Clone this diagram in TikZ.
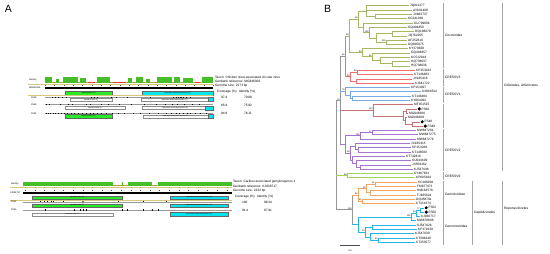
\documentclass[tikz,border=0pt]{standalone}
\usepackage{fontspec}
\setmainfont{Liberation Sans}
\usetikzlibrary{calc}
\definecolor{circ}{RGB}{165,185,100}
\definecolor{vthree}{RGB}{240,110,110}
\definecolor{vone}{RGB}{120,170,230}
\definecolor{fsc}{RGB}{200,115,115}
\definecolor{vtwo}{RGB}{165,115,210}
\definecolor{vsix}{RGB}{160,210,90}
\definecolor{gem}{RGB}{245,165,100}
\definecolor{gen}{RGB}{40,180,230}
\definecolor{bb}{RGB}{150,150,150}
\definecolor{idg}{RGB}{70,190,40}
\definecolor{idol}{RGB}{185,165,40}
\definecolor{idr}{RGB}{220,60,40}
\definecolor{cg}{RGB}{40,235,40}
\definecolor{cy}{RGB}{0,230,240}
\definecolor{khaki}{RGB}{215,200,120}
\newcommand{\lf}[3]{\coordinate (l#1) at (#2,{5.7+4.3*#1});\node[leaf] (t#1) at ([xshift=1.2pt]l#1) {#3};}
\newcommand{\lfd}[3]{\coordinate (l#1) at (#2,{5.7+4.3*#1});\node[fsdot] (d#1) at ([xshift=2.2pt]l#1) {};\node[leaf] (t#1) at ([xshift=4.6pt]l#1) {#3};}
\newcommand{\cl}[5]{\path let \p1=($(#4)!0.5!(#5)$), \p2=(#3,0) in coordinate (#2) at (\x2,\y1);
 \draw[br,#1] (#2 |- #4) -- (#2 |- #5);
 \draw[br,#1] (#2 |- #4) -- (#4);
 \draw[br,#1] (#2 |- #5) -- (#5);}
\newcommand{\bn}[6]{\path let \p1=($(#3)!0.5!(#4)$), \p2=(#2,0) in coordinate (#1) at (\x2,\y1);
 \draw[br,bb] (#1 |- #3) -- (#1 |- #4);
 \draw[br,#5] (#1 |- #3) -- (#3);
 \draw[br,#6] (#1 |- #4) -- (#4);}
\newcommand{\ed}[3]{\draw[br,#1] (#2 |- #3) -- (#3);}
\newcommand{\bsv}[2]{\node[bsn] (b#1) at ([xshift=-0.4pt,yshift=0.4pt]#1) {#2};}
\begin{document}
\begin{tikzpicture}[x=1pt,y=-1pt,
 every node/.style={inner sep=0pt,outer sep=0pt},
 leaf/.style={anchor=west,font=\fontsize{3.2}{3.4}\selectfont},
 fsdot/.style={circle,fill=black,minimum size=3.4pt},
 br/.style={line width=0.55pt},
 bsn/.style={anchor=south east,font=\fontsize{2.2}{2.4}\selectfont},
 fam/.style={anchor=west,font=\fontsize{3.3}{3.5}\selectfont},
 grp/.style={draw=black!35,line width=0.3pt},
 lab/.style={anchor=west,font=\fontsize{2.3}{2.5}\selectfont},
 info/.style={anchor=west,font=\fontsize{3.2}{3.4}\selectfont},
 gene/.style={draw=black!60,line width=0.15pt,minimum height=4pt,font=\fontsize{1.8}{2}\selectfont},
 geneo/.style={gene,fill=white,draw=black!45,minimum height=3pt},
 khk/.style={draw=khaki,line width=0.5pt},
 seq/.style={draw=black!40,line width=0.3pt},
 tick/.style={draw=black!70,line width=0.2pt},
 big/.style={font=\fontsize{10.5}{11}\selectfont}]
\useasboundingbox (0,0) rectangle (550,254);
\fill[white] (0,0) rectangle (550,254);
% ================= PANEL A =================
\node[big,anchor=west] (pA) at (5,9) {A};
% ---- top block ----
\fill[idol] (45,81.6) rectangle (213,83);
\foreach \a/\b/\t in {45/52/77,56/59/79.5,63/78/77,80/86/78.3,97/110/77,128/132/78,136/143/77.3,146/150/79.5,157/172/77,174/180/77.5,183/193/78,202/213/77}{\fill[idg] (\a,\t) rectangle (\b,83);}
\foreach \a/\b in {88/95,113/126,195/200}{\fill[idr] (\a,82.1) rectangle (\b,83);}
\node[lab] (idA) at (29,79.6) {Identity};
\draw[khk] (28,84.2) -- (213,84.2);
\foreach \i in {0,...,18}{\draw[tick] ({45+9.33*\i},85.3) -- ++(0,0.9);}
\fill (45,87.4) rectangle (213,88.9);
\node[lab] (refA) at (29,88.1) {MG846306};
\node[gene,fill=cg,minimum width=47pt] (capA) at (88.5,92.6) {capsid protein (2)};
\node[gene,fill=cy,minimum width=71pt] (repA) at (177.5,92.6) {replication associated protein (2)};
\draw[khk] (28,95.6) -- (213,95.6);
% row 1
\node[lab] (r1A) at (31,97.3) {FS48};
\draw[seq] (45,97.3) -- (213,97.3);
\foreach \p in {52,55,58,62,66,91,94,97,111,116,127,150,173,176,178,180,181,183,186,190}{\fill (\p,96.7) rectangle ++(0.5,1.2);}
\node[geneo,minimum width=42pt] (c1A) at (91,100) {capsid protein (2)};
\node[geneo,minimum width=67pt] (p1A) at (174.5,100) {replication associated protein (2)};
\draw[gene,fill=cy] (208,96.6) rectangle (213,101.4);
% row 2
\node[lab] (r2A) at (31,104.6) {FS66};
\draw[seq] (45,104.6) -- (213,104.6);
\foreach \p in {46,49,60,68,72,86,90,101,108,119,131,144,156,165,172,177,184,192,199}{\fill (\p,104) rectangle ++(0.5,1.2);}
\node[geneo,minimum width=60pt] (c2A) at (95,107.7) {capsid protein (2)};
\node[geneo,minimum width=66pt] (p2A) at (175,107.7) {replication associated protein (2)};
\draw[gene,fill=cy] (205,105.6) rectangle (213,109.6);
% row 3
\node[lab] (r3A) at (31,113.3) {FS49};
\draw[seq] (45,113.3) -- (213,113.3);
\foreach \p in {46,48,50,53,55,58,61,64,67,71,74,78,82,86,90,93,97,101,106,112,118,124,133,140,149,158,166,171,176,179,183,187,190,195,200,206}{\fill (\p,112.7) rectangle ++(0.5,1.2);}
\node[gene,fill=cg,minimum width=47pt] (c3A) at (88.5,116.3) {capsid protein (2)};
\node[geneo,minimum width=65pt] (p3A) at (175.5,116.3) {replication associated protein (2)};
\draw[gene,fill=cy] (208,114.3) rectangle (213,118.3);
% info
\node[info] (txA) at (215,77.3) {Taxon: Chicken stool-associated circular virus};
\node[info] (gbA) at (215,81.6) {Genbank reference: MG846306};
\node[info] (gsA) at (215,86) {Genome size: 2173 bp};
\node[info] (covA) at (217,91.3) {Coverage (\%)};
\node[info] (idtA) at (239,91.3) {Identity (\%)};
\node[info] (v1a) at (221,97.3) {97.4};
\node[info] (v1b) at (244,97.3) {79.88};
\node[info] (v2a) at (221,105) {85.9};
\node[info] (v2b) at (244,105) {75.92};
\node[info] (v3a) at (221,113.7) {94.9};
\node[info] (v3b) at (244,113.7) {78.11};
% ---- bottom block ----
\fill[idg] (23,182) rectangle (232,186.5);
\foreach \a/\b in {113/121.5,123/128,152/158}{\fill[white] (\a,181.9) rectangle (\b,185.4);\fill[idol] (\a,185.4) rectangle (\b,186.5);}
\node[lab] (idB) at (11,184) {Identity};
\draw[khk] (10,187.4) -- (232,187.4);
\foreach \i in {0,...,21}{\draw[tick] ({25+9.6*\i},189.8) -- ++(0,0.9);}
\fill (23,192.5) rectangle (232,194);
\node[lab] (refB) at (10,193.2) {KJ938717};
\node[gene,fill=cg,minimum width=90pt,minimum height=3.6pt] (capB) at (77,197.5) {capsid protein (2)};
\node[gene,fill=cy,minimum width=58pt,minimum height=3.6pt] (repB) at (199,197.5) {replication associated protein (2)};
\draw[khk] (10,200.4) -- (232,200.4);
\node[lab] (r1B) at (11,201.9) {FS52};
\draw[seq] (23,201.9) -- (232,201.9);
\foreach \p in {40,44,47,51,53,63,118,143,166}{\fill (\p,201.3) rectangle ++(0.5,1.2);}
\fill (83,201.9) circle (0.8);
\node[gene,fill=cg,minimum width=90pt,minimum height=3.6pt] (c1B) at (77,205.5) {capsid protein (2)};
\node[gene,fill=cy,minimum width=58pt,minimum height=3.6pt] (p1B) at (199,205.5) {replication associated protein (2)};
\node[lab] (r2B) at (11,210) {FS50};
\draw[seq] (23,210) -- (232,210);
\foreach \p in {45,80,83,86,122,127,143,158}{\fill (\p,209.4) rectangle ++(0.5,1.2);}
\fill (74.5,210) circle (0.8);\fill (152.5,210) circle (0.8);
\node[geneo,minimum width=81pt,minimum height=3.3pt] (c2B) at (72.5,214.4) {capsid protein (2)};
\node[gene,fill=cy,minimum width=58pt,minimum height=4.2pt] (p2B) at (199,213.9) {replication associated protein (2)};
\node[info] (txB) at (233,182) {Taxon: Caribou associated gemykrogvirus 1};
\node[info] (gbB) at (233,186.4) {Genbank reference: KJ938717};
\node[info] (gsB) at (233,191) {Genome size: 2232 bp};
\node[info] (covB) at (235,196.7) {Coverage (\%)};
\node[info] (idtB) at (257,196.7) {Identity (\%)};
\node[info] (w1a) at (242,202.7) {100};
\node[info] (w1b) at (264,202.7) {98.34};
\node[info] (w2a) at (242,210) {91.4};
\node[info] (w2b) at (264,210) {87.91};
% ================= PANEL B =================
\node[big,anchor=west] (pB) at (324,9) {B};
\lf{0}{409}{JQ011377}\lf{1}{412}{AY601408}\lf{2}{412}{JX863737}\lf{3}{407}{KC241982}
\lf{4}{413}{GU799606}\lf{5}{407}{GQ404850}\lf{6}{414}{DQ106679}\lf{7}{407}{JQ762265}
\lf{8}{407}{AF252610}\lf{9}{407}{DQ845075}\lf{10}{408}{KY379828}\lf{11}{410}{GQ404857}
\lf{12}{410}{KC512918}\lf{13}{410}{HQ738637}\lf{14}{410}{HQ738636}
\lf{15}{415}{KP153433}\lf{16}{413}{KT146483}\lf{17}{412}{JX185416}\lf{18}{414}{KJ641722}
\lf{19}{410}{KP153497}\lf{20}{421}{KX066512}\lf{21}{411}{KT146484}\lf{22}{410}{KY864392}
\lf{23}{413}{MF351515}\lfd{24}{417}{FS66}\lf{25}{408}{MG846306}\lf{26}{407}{MG846308}
\lfd{27}{420}{FS48}\lfd{28}{423}{FS49}
\lf{29}{416}{MW847261}\lf{30}{418}{MW847275}\lf{31}{416}{MW847276}\lf{32}{410}{JX185415}
\lf{33}{411}{KP153269}\lf{34}{411}{KT146500}\lf{35}{405}{KT732816}\lf{36}{411}{KU043409}
\lf{37}{411}{JX559362}\lf{38}{413}{KJ547648}
\lf{39}{413}{KY487823}\lf{40}{415}{KP005434}
\lf{41}{417}{KC108902}\lf{42}{416}{FM877473}\lf{43}{416}{HM163576}\lf{44}{416}{FJ665624}
\lf{45}{415}{DQ458791}\lf{46}{415}{KT214373}
\lfd{47}{424}{FS52}\lfd{48}{424}{FS50}\lf{49}{420}{KJ938717}\lf{50}{416}{MW678806}
\lf{51}{416}{KJ547626}\lf{52}{417}{KF371639}\lf{53}{414}{KJ547630}\lf{54}{415}{KT096248}
\lf{55}{415}{KT253577}
% Circoviridae
\cl{circ}{n23}{375}{l2}{l3}
\cl{circ}{n03}{366}{l0}{n23}\ed{circ}{n03}{l1}
\cl{circ}{n67}{392}{l6}{l7}
\cl{circ}{n89}{386}{l8}{l9}
\cl{circ}{n69}{376}{n67}{n89}
\cl{circ}{n59}{369}{l5}{n69}
\cl{circ}{n49}{363}{l4}{n59}
\cl{circ}{c1}{358}{n03}{n49}
\cl{circ}{n1314}{392}{l13}{l14}
\cl{circ}{n1214}{380}{l12}{n1314}
\cl{circ}{n1114}{372}{l11}{n1214}
\cl{circ}{c2}{362}{l10}{n1114}
\cl{circ}{c0}{349}{c1}{c2}
% CRESSV3
\cl{vthree}{n1516}{357}{l15}{l16}
\cl{vthree}{n1718}{356}{l17}{l18}
\cl{vthree}{vtn}{350}{n1516}{n1718}
\bn{up2}{345}{c0}{vtn}{circ}{vthree}
% CRESSV1
\cl{vone}{n2122}{352}{l21}{l22}
\cl{vone}{n2022}{350}{l20}{n2122}
\cl{vone}{von}{345}{l19}{n2022}
% FS clade
\cl{fsc}{n2728}{412}{l27}{l28}
\cl{fsc}{n2628}{405}{l26}{n2728}
\cl{fsc}{n2425}{406}{l24}{l25}
\cl{fsc}{f2}{403}{n2425}{n2628}
\cl{fsc}{f1}{373}{l23}{f2}
% CRESSV2
\cl{vtwo}{n2930}{372}{l29}{l30}
\cl{vtwo}{p1}{360}{n2930}{l31}
\cl{vtwo}{n3334}{358}{l33}{l34}
\cl{vtwo}{n3234}{355}{l32}{n3334}
\cl{vtwo}{n3738}{360}{l37}{l38}
\cl{vtwo}{n3638}{356}{l36}{n3738}
\cl{vtwo}{n3538}{352}{l35}{n3638}
\cl{vtwo}{p2}{350}{n3234}{n3538}
\cl{vtwo}{pn}{345}{p1}{p2}
\bn{up1}{340}{up2}{pn}{bb}{vtwo}
\ed{vone}{up1}{von}\ed{fsc}{up1}{f1}
% CRESSV6
\cl{vsix}{sn}{347}{l39}{l40}
% Geminiviridae
\cl{gem}{n4142}{375}{l41}{l42}
\cl{gem}{n4344}{370}{l43}{l44}
\cl{gem}{gma}{366}{n4142}{n4344}
\cl{gem}{gmb}{362}{l45}{l46}
\cl{gem}{gm}{358}{gma}{gmb}
% Genomoviridae
\cl{gen}{n4748}{420}{l47}{l48}
\cl{gen}{n4749}{416}{n4748}{l49}
\cl{gen}{gn1}{411}{n4749}{l50}
\cl{gen}{n5152}{372}{l51}{l52}
\cl{gen}{n5455}{378}{l54}{l55}
\cl{gen}{n5355}{370}{l53}{n5455}
\cl{gen}{gn2}{365}{n5152}{n5355}
\cl{gen}{gn}{358}{gn1}{gn2}
\bn{dn}{352}{gm}{gn}{gem}{gen}
\bn{rt}{336}{up1}{dn}{bb}{bb}
\ed{vsix}{rt}{sn}
% bootstrap values
\bsv{c0}{98}\bsv{c1}{98}\bsv{n59}{100}\bsv{n89}{100}\bsv{n1114}{91}\bsv{c2}{90}
\bsv{up2}{99}\bsv{n1516}{99}\bsv{vtn}{98}\bsv{von}{78}\bsv{f1}{100}
\bsv{n2930}{97}\bsv{p1}{100}\bsv{p2}{98}\bsv{up1}{75}\bsv{sn}{98}
\bsv{n4142}{61}\bsv{gma}{90}\bsv{gmb}{92}\bsv{gm}{86}\bsv{dn}{100}
\bsv{n4748}{77}\bsv{n4749}{99}\bsv{gn1}{100}\bsv{gn2}{99}\bsv{n5455}{54}
% scale bar
\coordinate (sb1) at (340,245.5);\coordinate (sb2) at (360,245.5);
\draw[line width=0.4pt,black!70] (sb1) -- (sb2);
\node[font=\fontsize{2.4}{2.6}\selectfont] (sbl) at (350,250.5) {0.5};
% group lines
\foreach \a/\b in {3/68.2,69/86,87/103,104/128.2,129/171.2,172/180,181/205.6,206.4/245}{\draw[grp] (443,\a) -- (443,\b);}
\draw[grp] (472,181) -- (472,245);
\draw[grp] (502,3) -- (502,171.2);
\draw[grp] (502,181) -- (502,245);
\node[fam] (fa1) at (445,35.7) {Circoviridae};
\node[fam] (fa2) at (445,77.3) {CRESSV3};
\node[fam] (fa3) at (445,94.7) {CRESSV1};
\node[fam] (fa4) at (445,150.7) {CRESSV2};
\node[fam] (fa5) at (445,176.7) {CRESSV6};
\node[fam] (fa6) at (445,194) {Geminiviridae};
\node[fam] (fa7) at (445,226) {Genomoviridae};
\node[fam] (or1) at (504,85.7) {Cirlivirales, Arfiviricetes};
\node[fam] (or2) at (474,213) {Geplafuvirales};
\node[fam] (or3) at (504,209) {Repensiviricetes};
\end{tikzpicture}
\end{document}
